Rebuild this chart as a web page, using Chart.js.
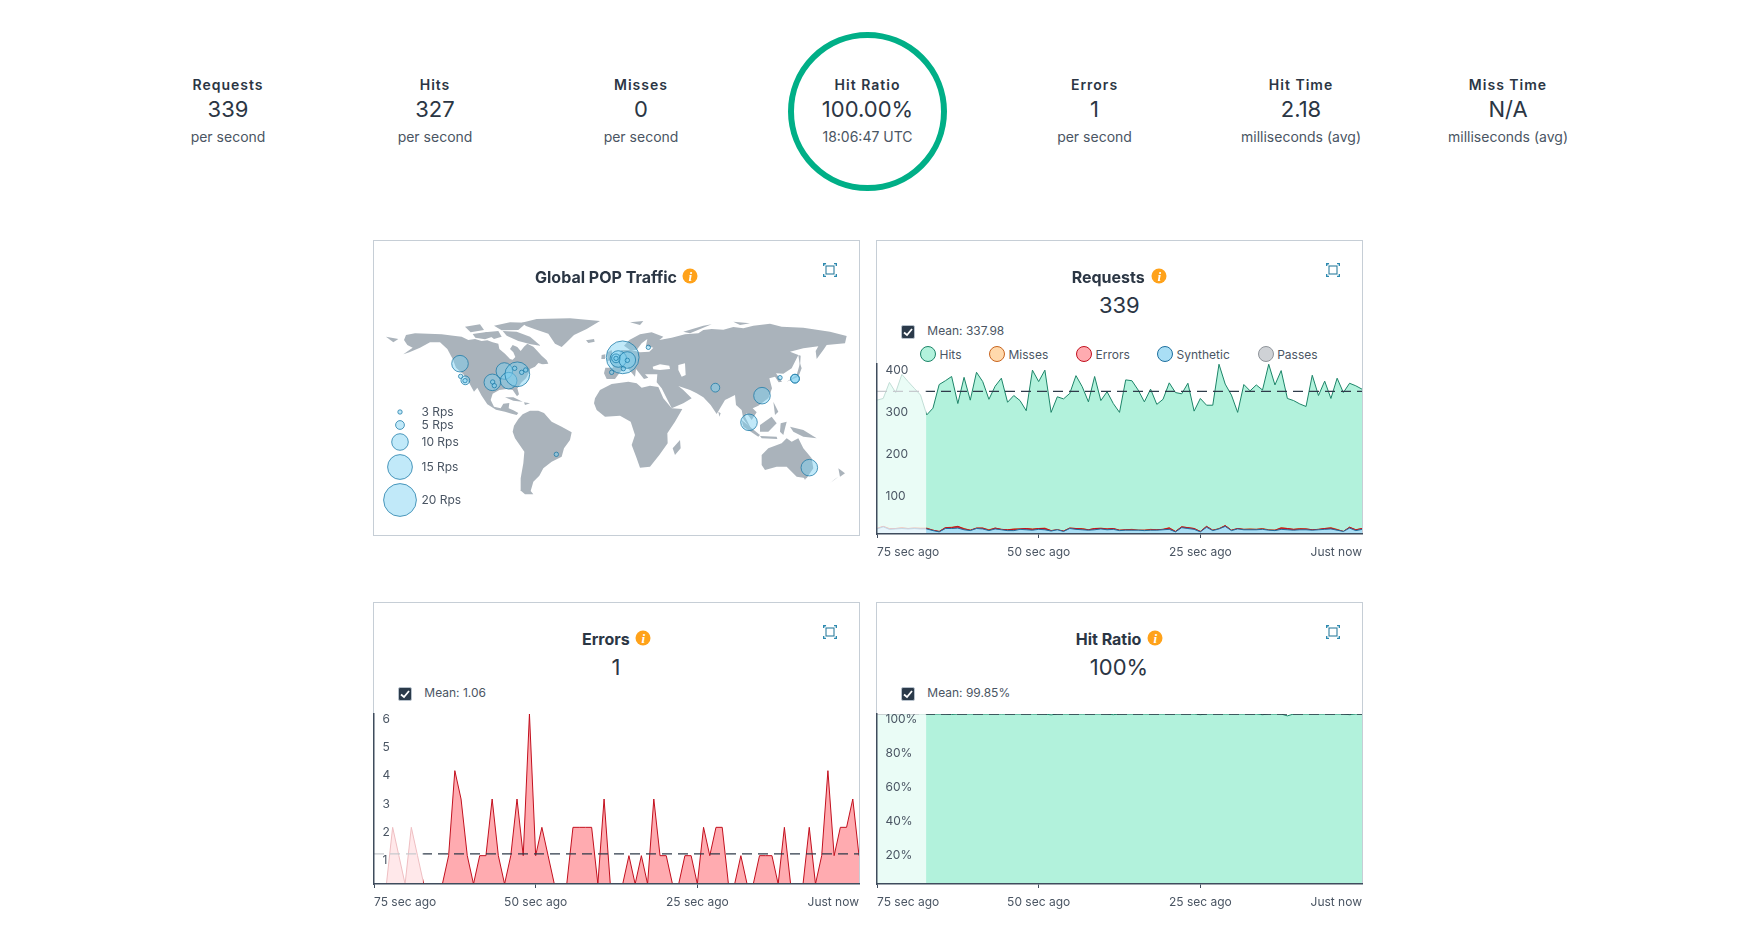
<!DOCTYPE html>
<html>
<head>
<meta charset="utf-8">
<title>Traffic dashboard</title>
<script src="https://cdn.jsdelivr.net/npm/chart.js@4"></script>
<style>
  html, body { margin: 0; background: #fff; font-family: Inter, "Noto Sans", sans-serif; color: #2b3644; }
  body { width: 1737px; height: 934px; position: relative; overflow: hidden; }
  .t { position: absolute; white-space: nowrap; line-height: 1; }
  .c { transform: translate(-50%, -50%); }
  .l { transform: translateY(-50%); }
  .card { position: absolute; border: 1px solid #c6ced6; box-sizing: border-box; width: 487px; }
  canvas { position: absolute; }
  .head { font-size: 14px; font-weight: 600; letter-spacing: 1px; }
  .val { font-size: 22px; }
  .sub { font-size: 14px; color: #4a5563; }
  .title { font-size: 16px; font-weight: 700; }
  .big { font-size: 22px; }
  .small { font-size: 12px; color: #4a5563; }
  .info { position: absolute; width: 15px; height: 15px; border-radius: 50%; background: #ffa21a; color: #fff; font: italic 700 13px/15px "Liberation Serif", serif; text-align: center; transform: translate(-50%, -50%); }
  .check { position: absolute; width: 12px; height: 12px; background: #2b3a4a; border: 1px solid #b8c2cc; border-radius: 2px; transform: translate(-50%, -50%); }
  .dot { position: absolute; width: 16px; height: 16px; border-radius: 50%; box-sizing: border-box; border: 1.3px solid; transform: translate(-50%, -50%); }
  .ring { position: absolute; left: 788px; top: 32px; width: 159px; height: 159px; box-sizing: border-box; border: 6.5px solid #00af87; border-radius: 50%; }
  svg { position: absolute; transform: translate(-50%, -50%); }
</style>
</head>
<body>
<div class="ring"></div>
<div class="card" style="left:373px;top:240px;height:296px"></div>
<div class="card" style="left:876px;top:240px;height:294px"></div>
<div class="card" style="left:373px;top:602px;height:282px"></div>
<div class="card" style="left:876px;top:602px;height:282px"></div>
<canvas id="mapChart" width="495" height="305" style="left:370px;top:235px;width:495px;height:305px"></canvas>
<canvas id="requestsChart" width="489" height="202" style="left:875px;top:362px;width:489px;height:202px"></canvas>
<canvas id="errorsChart" width="489" height="202" style="left:372px;top:712px;width:489px;height:202px"></canvas>
<canvas id="ratioChart" width="489" height="202" style="left:875px;top:712px;width:489px;height:202px"></canvas>
<script>
// header numbers
const statTitles = ['Requests', 'Hits', 'Misses', 'Hit Ratio', 'Errors', 'Hit Time', 'Miss Time']
const statValues = ['339', '327', '0', '100.00%', '1', '2.18', 'N/A']
const statUnits = ['per second', 'per second', 'per second', '18:06:47 UTC', 'per second', 'milliseconds (avg)', 'milliseconds (avg)']
const statCenters = [228, 435, 641, 867.5, 1094.5, 1301, 1508]

// time axis, one point per sample
const tickIndex = [0, 26, 52, 78]
const tickLabels = ['75 sec ago', '50 sec ago', '25 sec ago', 'Just now']

const requestHits = [317, 321, 359, 335, 378, 361, 345, 329, 282, 298, 354, 363, 373, 309, 371, 317, 383, 361, 319, 350, 369, 312, 328, 316, 292, 388, 361, 388, 288, 325, 320, 333, 375, 349, 313, 373, 316, 337, 309, 288, 365, 363, 341, 313, 343, 307, 319, 358, 335, 332, 357, 291, 321, 305, 305, 402, 355, 329, 288, 354, 339, 353, 341, 402, 353, 387, 321, 316, 308, 302, 376, 328, 362, 321, 369, 335, 357, 351, 343]
const requestMisses = [13, 18, 13, 13, 15, 13, 14, 14, 14, 9, 6, 15, 16, 18, 13, 9, 14, 14, 10, 14, 11, 10, 12, 12, 13, 12, 13, 14, 8, 10, 7, 14, 13, 13, 10, 13, 14, 12, 13, 9, 10, 11, 9, 9, 11, 10, 11, 15, 6, 17, 15, 13, 6, 18, 9, 13, 20, 9, 13, 11, 12, 11, 13, 10, 9, 15, 13, 11, 13, 12, 10, 11, 13, 15, 11, 6, 16, 10, 13]
const requestErrors = [13, 18, 12, 13, 14, 13, 14, 13, 13, 9, 6, 15, 15, 18, 12, 9, 14, 14, 9, 14, 11, 10, 11, 12, 13, 11, 13, 13, 8, 10, 7, 14, 13, 12, 10, 13, 13, 12, 13, 9, 10, 10, 9, 9, 10, 10, 11, 14, 6, 17, 15, 13, 6, 18, 9, 12, 20, 9, 13, 11, 11, 11, 12, 9, 9, 14, 13, 11, 12, 12, 10, 11, 13, 14, 10, 6, 16, 10, 13]
const requestSynthetic = [12, 17, 11, 12, 13, 12, 13, 12, 12, 8, 5, 13, 13, 14, 10, 8, 13, 12, 8, 12, 10, 8, 8, 11, 10, 9, 11, 10, 7, 10, 6, 13, 11, 10, 9, 10, 12, 10, 11, 8, 9, 9, 9, 8, 9, 9, 10, 11, 5, 15, 13, 11, 5, 16, 8, 12, 18, 8, 12, 10, 10, 10, 11, 9, 8, 11, 10, 9, 10, 10, 9, 10, 11, 12, 9, 6, 14, 8, 11]
const requestMean = 337.98
const requestTicks = [100, 200, 300, 400]

const errorValues = [0, 0, 0, 2, 1, 0, 2, 1, 0, 0, 0, 0, 1, 4, 3, 1, 0, 1, 1, 3, 1, 0, 1, 3, 1, 6, 1, 2, 1, 0, 0, 0, 2, 2, 2, 2, 0, 3, 0, 0, 0, 1, 0, 1, 0, 3, 1, 1, 0, 0, 1, 1, 0, 2, 1, 2, 2, 0, 0, 1, 0, 0, 1, 1, 1, 0, 2, 0, 0, 0, 2, 0, 1, 4, 1, 2, 2, 3, 1]
const errorMean = 1.06
const errorTicks = [1, 2, 3, 4, 5, 6]

const ratioValues = [100, 100, 100, 100, 100, 100, 100, 100, 100, 100, 100, 100, 99.7, 100, 100, 100, 100, 100, 100, 100, 100, 100, 100, 100, 100, 100, 100, 100, 99.5, 100, 100, 100, 100, 100, 100, 100, 100, 100, 99.6, 100, 100, 100, 100, 100, 100, 100, 100, 100, 100, 100, 100, 100, 99.6, 100, 100, 100, 100, 100, 100, 100, 100, 100, 99.6, 100, 100, 100, 98.9, 100, 100, 100, 100, 100, 100, 100, 100, 100, 99.6, 100, 100]
const ratioMean = 99.85
const ratioTicks = [20, 40, 60, 80, 100]

// legend of the requests chart
const seriesNames = ['Hits', 'Misses', 'Errors', 'Synthetic', 'Passes']
const seriesFill = ['#b2f2dc', '#ffd9ac', '#ffabb0', '#a9def5', '#cfd2d6']
const seriesLine = ['#1c8468', '#c8641e', '#c2101e', '#1e6f9e', '#8f949a']

// map data, in map units (three units to a pixel, origin at the top left)
const popX = [270, 272, 286, 285, 367, 368, 373, 403, 416, 442, 434, 455, 467, 758, 745, 738, 738, 772, 772, 760, 725, 835, 1036, 1176, 1137, 1230, 1275, 1275, 1318, 559]
const popY = [386, 424, 436, 437, 442, 441, 452, 408, 437, 418, 400, 412, 405, 367, 372, 370, 370, 375, 376, 401, 412, 337, 458, 482, 562, 428, 431, 431, 698, 658]
const popRps = [10, 3, 5, 3, 10, 3, 3, 10, 10, 15, 3, 3, 3, 20, 10, 5, 3, 10, 3, 3, 3, 3, 5, 10, 10, 3, 5, 5, 10, 3]
const legendRps = [3, 5, 10, 15, 20]
const legendRadius = [2.2, 4.4, 8.3, 12.4, 16.4]
const legendX = [90, 90, 90, 90, 90]
const legendY = [531, 570, 621, 696, 795]

const land = [
  // north america
  [[108,300],[135,295],[175,296],[215,298],[250,302],[275,305],[295,315],[315,312],[335,318],[352,316],[368,322],[385,326],[388,342],[405,356],[420,372],[428,374],[436,366],[430,352],[420,342],[428,330],[442,336],[452,348],[462,335],[472,326],[490,335],[502,348],[515,362],[530,376],[535,386],[518,388],[505,384],[495,395],[480,402],[476,415],[468,430],[455,442],[442,460],[447,478],[441,484],[428,465],[410,462],[388,465],[368,476],[362,495],[372,515],[392,520],[400,506],[418,504],[416,520],[430,526],[445,534],[440,540],[425,536],[405,530],[378,524],[352,508],[335,482],[322,458],[312,470],[298,445],[280,418],[258,398],[248,372],[232,342],[210,322],[180,322],[150,338],[118,352],[100,358],[128,338],[112,330],[102,315]],
  // arctic islands and greenland
  [[398,288],[440,290],[480,305],[512,332],[482,328],[445,318],[410,302]],
  [[308,297],[350,291],[372,304],[345,313],[316,308]],
  [[372,272],[420,262],[470,263],[445,285],[395,286]],
  [[285,275],[330,268],[342,285],[302,292]],
  [[345,292],[385,288],[395,305],[372,312]],
  [[455,263],[500,252],[600,250],[690,258],[650,282],[612,300],[590,322],[575,336],[555,326],[535,296],[495,283],[468,273]],
  [[648,316],[672,312],[674,320],[655,324]],
  [[510,372],[525,378],[515,388]],
  [[405,487],[430,487],[458,500],[430,497]],
  [[462,502],[480,505],[465,510]],
  [[48,305],[85,312],[70,322]],
  // south america
  [[432,572],[445,552],[458,538],[480,527],[505,527],[522,534],[545,560],[575,575],[605,592],[600,615],[582,640],[575,665],[545,680],[520,700],[508,722],[490,740],[482,768],[490,778],[465,778],[450,765],[452,730],[460,685],[463,650],[435,610],[428,590]],
  // africa and madagascar
  [[675,490],[690,465],[725,447],[775,440],[800,445],[815,458],[840,452],[865,456],[880,490],[905,520],[937,522],[915,560],[892,595],[893,625],[868,660],[840,695],[810,698],[800,670],[785,630],[795,600],[782,560],[750,542],[705,545],[680,525],[672,505]],
  [[930,615],[932,640],[915,660],[908,640]],
  // eurasia
  [[702,415],[706,398],[730,398],[718,372],[745,362],[755,345],[785,345],[810,352],[838,350],[850,338],[828,332],[832,312],[815,325],[800,345],[780,345],[762,332],[778,315],[810,298],[845,292],[880,305],[868,315],[905,308],[945,298],[985,295],[1000,285],[1025,282],[1060,284],[1090,276],[1120,280],[1150,272],[1200,266],[1235,275],[1300,278],[1380,290],[1430,303],[1425,325],[1370,330],[1362,342],[1340,372],[1337,348],[1345,334],[1300,340],[1260,350],[1285,360],[1265,400],[1240,416],[1218,415],[1236,440],[1226,442],[1215,425],[1198,430],[1206,460],[1195,490],[1165,512],[1148,520],[1160,532],[1145,555],[1130,535],[1125,545],[1148,590],[1120,552],[1115,525],[1098,510],[1095,480],[1065,495],[1040,537],[1022,510],[1000,487],[980,475],[960,465],[925,453],[940,465],[965,490],[940,505],[905,520],[875,460],[860,442],[862,418],[825,418],[835,428],[822,432],[798,402],[795,425],[770,395],[750,412],[735,432],[710,432]],
  // islands
  [[712,352],[725,345],[730,375],[712,378]],
  [[695,360],[706,358],[705,372],[694,372]],
  [[1290,385],[1295,400],[1285,425],[1250,440],[1280,420]],
  [[1285,360],[1292,362],[1290,395]],
  [[1170,570],[1205,545],[1220,565],[1195,590],[1170,590]],
  [[1115,555],[1170,600],[1165,605],[1120,575]],
  [[1170,603],[1220,605],[1222,612],[1175,610]],
  [[1232,565],[1250,560],[1240,600],[1230,590]],
  [[1210,500],[1225,530],[1215,540]],
  [[1260,575],[1300,585],[1340,610],[1300,605],[1270,590]],
  [[1175,660],[1195,640],[1235,625],[1250,610],[1265,620],[1285,610],[1300,640],[1325,670],[1330,700],[1310,730],[1280,725],[1250,695],[1220,695],[1185,705],[1175,690]],
  [[1300,725],[1310,725],[1305,735]],
  [[1405,700],[1425,715],[1410,725]],
  [[1405,725],[1380,745],[1395,732]],
  [[1045,530],[1052,535],[1048,545]],
  [[780,262],[820,258],[810,270]],
  [[940,290],[1000,272],[1025,268],[960,295]],
  [[1090,260],[1140,265],[1110,270]]
]
const seas = [
  [[848,395],[870,388],[898,392],[900,402],[870,405],[850,403]],
  [[925,390],[945,385],[947,420],[935,425],[925,405]]
]

const mapSize = [1485, 915]
const dimUntil = 7.9

let head = ''
for (let i = 0; i < statTitles.length; i++) {
  head += `<div class="t c head" style="left:${statCenters[i]}px;top:85px">${statTitles[i]}</div>`
  head += `<div class="t c val" style="left:${statCenters[i]}px;top:109px">${statValues[i]}</div>`
  head += `<div class="t c sub" style="left:${statCenters[i]}px;top:137px">${statUnits[i]}</div>`
}
document.body.insertAdjacentHTML('beforeend', head)

function expandIcon(x, y) {
  return `<svg style="left:${x}px;top:${y}px" width="14" height="14" viewBox="0 0 14 14" fill="none" stroke="#2d8ab0" stroke-width="1.1">
    <rect x="3" y="3" width="8" height="8" stroke="#2f7f9f"/>
    <path d="M0.6 3V0.6H3L1 1M13.4 3V0.6H11M0.6 11V13.4H3M13.4 11V13.4H11" stroke-width="1.5"/></svg>`
}

function checkBox(x, y) {
  return `<div class="check" style="left:${x}px;top:${y}px"><svg style="left:6px;top:6px" width="10" height="10" viewBox="0 0 10 10" fill="none" stroke="#fff" stroke-width="1.8"><path d="M1 5.5L4 8L9 2"/></svg></div>`
}

function panelHead(title, tx, ty, ix, iy, value, vx, mean, mx, cx, ex) {
  let h = `<div class="t l title" style="left:${tx}px;top:${ty}px">${title}</div>`
  h += `<div class="info" style="left:${ix}px;top:${iy}px">i</div>`
  h += expandIcon(ex, ty - 7.5)
  if (value !== null) {
    h += `<div class="t c big" style="left:${vx}px;top:${ty + 28}px">${value}</div>`
    h += checkBox(cx, ty + 55)
    h += `<div class="t l small" style="left:${mx}px;top:${ty + 54}px">Mean: ${mean}</div>`
  }
  return h
}

let panels = ''
panels += panelHead('Global POP Traffic', 535, 277, 690.3, 275.7, null, 0, '', 0, 0, 830.3)
panels += panelHead('Requests', 1071.7, 277, 1159.3, 275.7, '339', 1119.3, requestMean, 927.3, 908, 1333.3)
panels += panelHead('Errors', 582, 639, 643.3, 637.7, '1', 616, errorMean, 424.3, 405, 830.3)
panels += panelHead('Hit Ratio', 1075.7, 639, 1155.3, 637.7, '100%', 1119, ratioMean + '%', 927.3, 908, 1333.3)
const dotX = [928, 997, 1084, 1165, 1265.7]
for (let i = 0; i < seriesNames.length; i++) {
  panels += `<div class="dot" style="left:${dotX[i]}px;top:354px;background:${seriesFill[i]};border-color:${seriesLine[i]}"></div>`
  panels += `<div class="t l small" style="left:${dotX[i] + 11.5}px;top:354.5px">${seriesNames[i]}</div>`
}
for (let i = 0; i < legendRps.length; i++) {
  panels += `<div class="t l small" style="left:421.5px;top:${235 + legendY[i] / 3}px">${legendRps[i]} Rps</div>`
}
document.body.insertAdjacentHTML('beforeend', panels)

function toPoints(list) {
  return list.map((v, i) => ({ x: i, y: v }))
}

// white veil over the first seconds of every time chart
const veil = {
  id: 'veil',
  afterDatasetsDraw(chart) {
    const x = chart.scales.x
    const a = chart.chartArea
    const c = chart.ctx
    c.save()
    c.fillStyle = 'rgba(255,255,255,0.73)'
    c.fillRect(a.left, a.top - 2, x.getPixelForValue(dimUntil) - a.left, a.bottom - a.top + 2)
    c.restore()
  }
}

function meanSet(mean) {
  return {
    data: [{ x: 0, y: mean }, { x: 78, y: mean }],
    borderColor: '#2f3b4a',
    borderWidth: 1.2,
    borderDash: [10, 6],
    pointRadius: 0,
    fill: false
  }
}

function areaSet(list, fill, line) {
  return {
    data: toPoints(list),
    borderColor: line,
    backgroundColor: fill,
    borderWidth: 1,
    pointRadius: 0,
    tension: 0,
    fill: 'origin'
  }
}

function timeChart(id, datasets, maxY, yTicks, suffix) {
  return new Chart(document.getElementById(id), {
    type: 'line',
    data: { datasets: datasets },
    plugins: [veil],
    options: {
      responsive: false,
      animation: false,
      events: [],
      layout: { autoPadding: false, padding: { left: 2, right: 2, top: 2, bottom: 0 } },
      plugins: { legend: { display: false }, tooltip: { enabled: false } },
      scales: {
        x: {
          type: 'linear',
          min: 0,
          max: 78,
          afterBuildTicks: (axis) => { axis.ticks = tickIndex.map((v) => ({ value: v })) },
          afterFit: (axis) => {
            axis.height = 30
            axis.paddingLeft = 0
            axis.paddingRight = 0
          },
          grid: {
            drawOnChartArea: false,
            tickLength: 4,
            tickColor: (ctx) => (ctx.tick && ctx.tick.value === 78 ? 'rgba(0,0,0,0)' : '#3f4c5d')
          },
          border: { color: '#3f4c5d', width: 1.5, z: 2 },
          ticks: {
            align: 'inner',
            autoSkip: false,
            maxRotation: 0,
            padding: 7,
            color: '#4a5563',
            font: { family: 'Inter', size: 12 },
            callback: (v) => tickLabels[tickIndex.indexOf(v)]
          }
        },
        y: {
          min: 0,
          max: maxY,
          afterBuildTicks: (axis) => { axis.ticks = yTicks.map((v) => ({ value: v })) },
          afterFit: (axis) => {
            axis.width = 0
            axis.paddingTop = 0
            axis.paddingBottom = 0
          },
          grid: { display: false, drawTicks: false },
          border: { color: '#3f4c5d', width: 1.5, z: 2 },
          ticks: {
            mirror: true,
            padding: 8.5,
            labelOffset: 5,
            z: 2,
            autoSkip: false,
            color: '#4a5563',
            font: { family: 'Inter', size: 12 },
            callback: (v) => v + suffix
          }
        }
      }
    }
  })
}

timeChart('requestsChart', [
  meanSet(requestMean),
  areaSet(requestSynthetic, seriesFill[3], seriesLine[3]),
  areaSet(requestErrors, '#d9303c', seriesLine[2]),
  areaSet(requestMisses, seriesFill[1], seriesLine[1]),
  areaSet(requestHits, seriesFill[0], seriesLine[0])
], 402.6, requestTicks, '')

timeChart('errorsChart', [
  meanSet(errorMean),
  areaSet(errorValues, seriesFill[2], '#c2101e')
], 6, errorTicks, '')

timeChart('ratioChart', [
  meanSet(ratioMean),
  areaSet(ratioValues, seriesFill[0], seriesLine[0])
], 100, ratioTicks, '%')

// world map: land outlines and POP bubbles on two hidden linear axes
function shapeSet(shape, color, order) {
  return {
    type: 'line',
    data: shape.map((p) => ({ x: p[0], y: p[1] })),
    backgroundColor: color,
    borderWidth: 0,
    pointRadius: 0,
    fill: 'shape',
    order: order
  }
}

function bubbleSet(xs, ys, rs) {
  return {
    type: 'bubble',
    data: xs.map((x, i) => ({ x: x, y: ys[i], r: rs[i] })),
    backgroundColor: 'rgba(126,208,242,0.48)',
    borderColor: 'rgba(25,120,165,0.75)',
    borderWidth: 1,
    order: 0
  }
}

function rpsRadius(rps) {
  return legendRadius[legendRps.indexOf(rps)]
}

new Chart(document.getElementById('mapChart'), {
  type: 'line',
  data: {
    datasets: [
      bubbleSet(popX, popY, popRps.map(rpsRadius)),
      bubbleSet(legendX, legendY, legendRadius)
    ].concat(seas.map((s) => shapeSet(s, '#ffffff', 1)), land.map((s) => shapeSet(s, '#aab3bb', 2)))
  },
  options: {
    responsive: false,
    animation: false,
    events: [],
    layout: { autoPadding: false, padding: 0 },
    plugins: { legend: { display: false }, tooltip: { enabled: false } },
    scales: {
      x: { type: 'linear', display: false, min: 0, max: mapSize[0] },
      y: { type: 'linear', display: false, min: 0, max: mapSize[1], reverse: true }
    }
  }
})
</script>
</body>
</html>
